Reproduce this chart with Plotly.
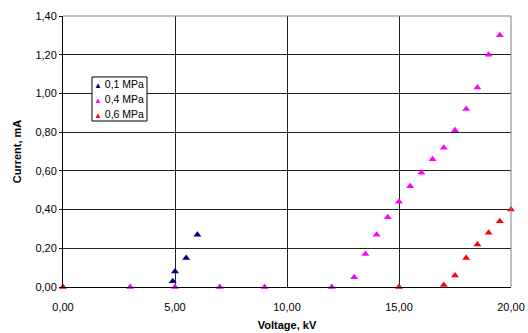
import plotly.graph_objects as go

# Current vs. voltage measurements at three gas pressures
v_01 = [4.9, 5.0, 5.5, 6.0]
i_01 = [0.03, 0.08, 0.15, 0.27]

v_04 = [3.0, 5.0, 7.0, 9.0, 12.0, 13.0, 13.5, 14.0, 14.5, 15.0, 15.5, 16.0,
        16.5, 17.0, 17.5, 18.0, 18.5, 19.0, 19.5]
i_04 = [0.0, 0.0, 0.0, 0.0, 0.0, 0.05, 0.17, 0.27, 0.36, 0.44, 0.52, 0.59,
        0.66, 0.72, 0.81, 0.92, 1.03, 1.20, 1.30]

v_06 = [0.0, 15.0, 17.0, 17.5, 18.0, 18.5, 19.0, 19.5, 20.0]
i_06 = [0.0, 0.0, 0.01, 0.06, 0.15, 0.22, 0.28, 0.34, 0.40]

series = [
    ("0,1 MPa", v_01, i_01, "#000080"),
    ("0,4 MPa", v_04, i_04, "#FF00FF"),
    ("0,6 MPa", v_06, i_06, "#FF0000"),
]

font_family = "Liberation Sans, Arial, sans-serif"

fig = go.Figure()
for name, xs, ys, color in series:
    fig.add_trace(go.Scatter(
        x=xs, y=ys, mode="markers", name=name,
        marker=dict(symbol="triangle-up", size=7, color=color),
        cliponaxis=False, showlegend=False,
    ))

# Compact boxed key in the upper-left of the plot area
box_x0, box_x1 = 0.0647, 0.1875
box_y0, box_y1 = 0.6125, 0.775
fig.add_shape(type="rect", xref="paper", yref="paper",
              x0=box_x0, x1=box_x1, y0=box_y0, y1=box_y1,
              line=dict(color="black", width=1), fillcolor="white", layer="above")
row_h = (box_y1 - box_y0) / 3
for k, (name, _, _, color) in enumerate(series):
    yc = box_y1 - row_h * (k + 0.5)
    fig.add_annotation(
        xref="paper", yref="paper", x=box_x0 + 0.001, y=yc,
        xanchor="left", yanchor="middle", showarrow=False,
        text=f"<span style='color:{color};font-size:8px'>▲</span> {name}",
        font=dict(size=10.5, family=font_family, color="black"),
    )

fig.update_layout(
    width=528, height=333,
    margin=dict(l=63, r=17, t=16, b=46, autoexpand=False),
    paper_bgcolor="white", plot_bgcolor="white",
    separators=", ",
    font=dict(family=font_family, size=11, color="black"),
    showlegend=False,
    xaxis=dict(
        range=[0, 20], dtick=5, tickformat=".2f",
        showgrid=True, gridcolor="#222222", gridwidth=1,
        showline=True, linecolor="black", linewidth=1,
        mirror=False, zeroline=False, ticks="", automargin=False,
        ticklabelstandoff=10,
        title=dict(text="<b>Voltage, kV</b>", font=dict(size=11), standoff=9),
        tickfont=dict(size=11),
    ),
    yaxis=dict(
        range=[0, 1.4], dtick=0.2, tickformat=".2f",
        showgrid=True, gridcolor="#222222", gridwidth=1,
        showline=True, linecolor="black", linewidth=1, automargin=False,
        zeroline=False, ticks="outside", ticklen=3, tickcolor="black",
        title=dict(text="<b>Current, mA</b>", font=dict(size=11), standoff=11),
        tickfont=dict(size=11),
    ),
)

# Gray frame on the top and right of the plot area
fig.add_shape(type="line", xref="paper", yref="paper", x0=0, x1=1, y0=1, y1=1,
              line=dict(color="#808080", width=1))
fig.add_shape(type="line", xref="paper", yref="paper", x0=1, x1=1, y0=0, y1=1,
              line=dict(color="#808080", width=1))

fig.write_html("out.html")
